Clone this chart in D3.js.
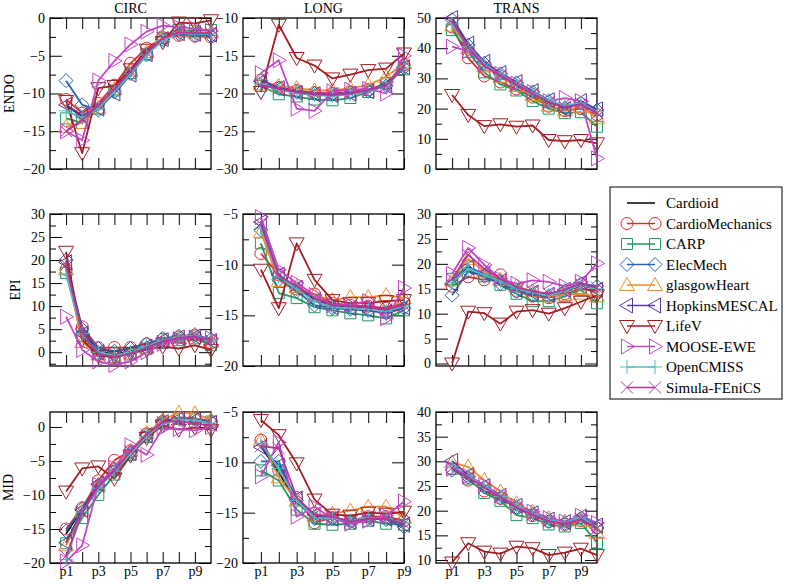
<!DOCTYPE html>
<html><head><meta charset="utf-8">
<script src="https://cdn.jsdelivr.net/npm/d3@7"></script>
<style>body{margin:0;background:#fff} svg{display:block}</style>
</head><body>
<script>
// ---------- data ----------
const seriesNames = ["Cardioid","CardioMechanics","CARP","ElecMech","glasgowHeart","HopkinsMESCAL","LifeV","MOOSE-EWE","OpenCMISS","Simula-FEniCS"];
const seriesColors = ["#000000","#e8252b","#1c9a62","#2a62ad","#f28a2a","#5b3a9c","#a31d22","#c444c6","#4cc0c4","#b5359a"];
const seriesMarkers = ["none","circle","square","diamond","triUp","triLeft","triDown","triRight","plus","cross"];
const pointLabels = ["p1","p2","p3","p4","p5","p6","p7","p8","p9","p10"];
const xTickLabels = ["p1","p3","p5","p7","p9"];
const columnTitles = ["CIRC","LONG","TRANS"];
const rowTitles = ["ENDO","EPI","MID"];

const endoCirc = [
  [-11.6,-13.0,-11.8,-9.5,-7.2,-4.6,-2.8,-1.9,-2.0,-2.0],
  [-10.8,-12.6,-11.3,-8.9,-6.0,-4.0,-2.6,-2.3,-2.4,-2.5],
  [-13.3,-13.9,-12.0,-9.6,-7.3,-4.8,-2.7,-1.6,-1.7,-1.6],
  [-8.3,-11.5,-12.2,-9.8,-7.4,-4.9,-2.9,-2.1,-2.3,-2.4],
  [-14.4,-13.9,-11.9,-9.4,-7.0,-4.5,-2.5,-1.8,-1.9,-1.9],
  [-11.5,-12.9,-12.0,-10.0,-7.5,-4.8,-2.8,-2.0,-2.1,-2.2],
  [-11.0,-17.9,-9.3,-9.0,-6.8,-4.2,-3.2,-0.6,-0.7,-0.3],
  [-15.0,-16.2,-8.3,-5.7,-3.5,-1.8,-1.0,-1.2,-1.4,-1.7],
  [-12.3,-13.2,-12.0,-9.8,-7.4,-4.9,-3.0,-2.0,-2.1,-2.1],
  [-15.0,-13.5,-11.6,-9.4,-7.1,-4.6,-2.7,-1.9,-2.0,-2.0]
];
const endoLong = [
  [-18.6,-19.4,-19.9,-20.1,-20.2,-20.0,-19.6,-18.9,-16.4],
  [-18.2,-19.2,-19.6,-19.9,-20.0,-19.8,-19.5,-18.7,-16.2],
  [-19.0,-20.1,-20.4,-20.8,-20.9,-20.6,-19.8,-18.6,-16.8],
  [-18.3,-19.3,-19.8,-20.0,-20.1,-19.9,-19.7,-19.0,-16.6],
  [-18.8,-19.0,-19.3,-19.6,-19.6,-19.3,-18.9,-17.8,-16.0],
  [-18.4,-19.3,-19.9,-20.1,-20.2,-20.0,-19.7,-19.0,-16.5],
  [-19.8,-10.9,-15.3,-16.3,-18.0,-17.5,-16.9,-16.7,-14.7],
  [-17.3,-15.6,-22.0,-22.3,-19.7,-19.5,-19.4,-20.0,-15.0],
  [-18.7,-19.5,-19.9,-20.2,-20.3,-20.1,-19.7,-19.1,-16.5],
  [-18.9,-19.4,-19.8,-20.1,-20.2,-20.0,-19.6,-19.0,-16.4]
];
const endoTrans = [
  [48.5,40.5,34.5,31.0,28.0,25.0,22.0,20.5,21.5,19.0],
  [47.0,36.8,30.8,28.8,26.5,23.8,20.8,19.3,20.0,18.0],
  [46.0,38.8,32.0,28.0,26.0,22.5,20.0,18.5,18.8,14.0],
  [49.5,41.0,35.0,31.5,28.5,25.5,22.5,20.2,21.8,19.5],
  [47.5,40.0,34.0,30.5,27.5,24.5,21.0,19.5,20.5,17.0],
  [50.0,41.5,35.5,31.8,28.8,25.8,22.8,19.8,22.5,19.8],
  [24.5,17.9,14.2,14.8,14.0,14.4,9.6,9.2,9.6,8.5],
  [40.5,39.0,34.5,31.5,28.3,25.5,22.5,23.5,22.5,3.5],
  [48.0,40.5,34.8,31.2,28.2,25.2,22.8,21.0,21.8,19.0],
  [48.8,40.2,34.2,31.0,28.0,25.0,22.2,20.5,21.5,18.5]
];
const epiCirc = [
  [18.5,4.5,0.2,-0.5,0.2,1.3,2.5,3.0,3.3,2.3],
  [18.0,5.5,1.0,1.0,1.0,1.8,2.8,3.3,3.6,2.0],
  [17.2,3.5,-0.3,-1.0,-0.5,0.8,2.0,2.6,3.0,1.5],
  [20.0,5.0,0.8,0.2,0.8,1.8,3.0,3.5,3.8,2.8],
  [18.0,2.2,-0.5,-1.2,-0.3,1.0,2.5,3.4,3.7,2.3],
  [19.5,4.0,0.0,-0.8,0.0,1.2,2.6,3.2,3.4,2.4],
  [21.8,2.8,-0.8,-1.0,-0.2,0.5,1.2,0.8,1.5,0.5],
  [7.7,0.5,-2.0,-2.8,-2.0,0.0,1.8,2.8,3.2,3.0],
  [17.0,4.0,0.0,-0.7,0.0,1.3,2.6,3.2,3.5,2.5],
  [19.0,4.3,-0.4,-1.0,-0.3,1.0,2.4,3.1,3.4,2.6]
];
const epiLong = [
  [-6.5,-11.3,-12.3,-13.4,-14.1,-14.2,-14.3,-14.5,-14.0],
  [-8.9,-11.0,-12.4,-12.9,-13.8,-14.0,-14.1,-14.3,-13.8],
  [-7.9,-12.8,-13.3,-14.2,-14.5,-14.8,-15.0,-15.3,-14.5],
  [-6.6,-11.5,-12.6,-14.0,-14.3,-14.4,-14.5,-14.8,-14.3],
  [-6.8,-11.6,-12.2,-13.0,-13.5,-13.2,-13.2,-13.0,-13.3],
  [-5.8,-11.0,-12.3,-13.6,-14.2,-14.3,-14.5,-14.7,-14.2],
  [-10.5,-14.3,-7.9,-11.5,-13.5,-13.8,-13.8,-13.6,-13.5],
  [-5.3,-10.5,-11.8,-13.0,-14.0,-14.0,-13.6,-15.3,-12.3],
  [-6.4,-11.2,-12.4,-13.6,-14.2,-14.3,-14.4,-14.6,-14.1],
  [-6.0,-11.1,-12.1,-13.3,-14.0,-14.1,-14.2,-14.4,-14.0]
];
const epiTrans = [
  [16.5,19.0,17.8,16.5,14.8,14.0,13.6,14.4,15.7,15.0],
  [15.5,17.4,16.8,17.8,14.5,13.5,13.2,14.0,15.0,14.5],
  [17.0,19.5,17.5,15.8,14.0,12.5,12.5,13.5,14.8,12.1],
  [13.7,18.5,17.5,16.0,14.5,13.8,13.5,14.6,16.0,15.5],
  [16.7,21.0,18.5,16.8,15.5,14.5,13.5,13.8,14.0,13.5],
  [16.0,19.3,18.0,16.5,14.8,14.2,13.8,14.8,16.2,14.8],
  [0.0,10.4,10.1,8.0,10.4,10.7,10.0,11.1,12.4,13.7],
  [18.0,23.2,19.8,17.0,16.0,16.7,16.4,15.5,16.4,20.1],
  [16.3,19.0,17.8,16.5,15.0,14.2,13.7,14.5,15.8,15.0],
  [17.0,21.8,19.0,17.0,15.3,14.5,14.0,14.8,16.0,15.2]
];
const midCirc = [
  [-15.7,-12.0,-8.3,-6.3,-3.9,-1.3,0.6,1.2,1.2,0.7],
  [-15.0,-11.9,-7.9,-4.9,-3.5,-1.0,0.8,1.4,1.3,0.6],
  [-17.1,-13.4,-10.0,-7.0,-4.1,-1.5,0.5,1.3,1.2,0.8],
  [-15.3,-12.0,-8.5,-6.2,-3.8,-1.2,0.7,1.3,1.2,0.9],
  [-17.4,-12.3,-8.6,-6.0,-3.5,-0.9,1.0,2.1,2.0,1.0],
  [-17.0,-12.2,-8.4,-6.2,-3.8,-1.2,0.7,1.2,1.1,0.6],
  [-9.5,-6.1,-5.8,-7.6,-4.2,-1.6,0.2,-0.4,-0.1,-0.4],
  [-19.8,-17.4,-8.5,-6.0,-2.7,-4.1,-0.2,-0.3,-0.5,0.0],
  [-19.5,-12.5,-9.0,-6.5,-4.0,-1.4,0.5,1.1,1.0,0.5],
  [-19.0,-12.6,-8.8,-6.4,-3.6,-1.1,0.7,0.9,0.5,0.2]
];
const midLong = [
  [-8.4,-11.0,-14.0,-15.4,-15.5,-15.9,-15.5,-15.5,-16.0],
  [-7.8,-10.8,-13.5,-16.0,-15.5,-15.8,-15.4,-15.4,-15.8],
  [-10.8,-11.8,-14.7,-16.1,-16.2,-16.1,-15.8,-16.1,-16.2],
  [-9.9,-9.9,-13.8,-15.6,-15.6,-15.9,-15.6,-15.7,-16.4],
  [-7.8,-11.5,-13.8,-15.3,-15.1,-14.8,-14.4,-14.4,-15.5],
  [-8.5,-10.3,-13.6,-15.2,-15.6,-15.9,-15.6,-15.6,-16.2],
  [-5.8,-7.3,-10.1,-13.7,-15.2,-15.3,-15.0,-15.1,-14.9],
  [-11.4,-8.0,-15.4,-14.4,-15.6,-16.1,-15.8,-15.3,-13.9],
  [-8.1,-10.6,-13.8,-15.5,-15.6,-15.8,-15.5,-15.6,-16.0],
  [-8.4,-8.6,-13.5,-15.2,-15.4,-15.9,-15.6,-15.6,-16.1]
];
const midTrans = [
  [28.9,26.9,24.9,22.8,20.8,19.3,18.0,17.5,18.5,16.8],
  [28.5,26.2,24.0,22.5,20.5,19.0,17.8,17.2,18.0,16.5],
  [28.5,26.5,23.6,22.0,19.1,18.5,17.2,16.8,17.5,13.5],
  [28.2,26.8,24.8,22.6,20.6,19.2,17.8,17.4,18.5,16.5],
  [29.8,28.9,26.2,23.9,21.5,19.8,18.5,17.8,18.0,15.5],
  [30.1,27.2,25.0,23.0,21.0,19.5,18.2,17.7,18.8,17.0],
  [9.5,13.4,11.7,11.3,12.7,12.4,11.0,11.5,12.3,11.0],
  [28.5,27.0,25.2,23.2,21.0,19.8,18.5,17.8,19.0,17.5],
  [29.0,27.0,24.9,22.9,20.9,19.4,18.1,17.6,18.6,16.8],
  [28.7,26.8,24.7,22.8,20.7,19.2,17.9,17.4,18.3,16.5]
];

// ---------- layout ----------
const FONT = "Liberation Serif, Times New Roman, Times, serif";
const W = 161;
const colLeft = [50, 243, 436];
const rowTop = [18, 214, 412];
const rowH = [151, 152, 151];

const panels = [
  {data: endoCirc,  dom: [-20, 0],   major: 5,  minor: 2.5, r: 0, c: 0},
  {data: endoLong,  dom: [-30, -10], major: 5,  minor: 2.5, r: 0, c: 1},
  {data: endoTrans, dom: [0, 50],    major: 10, minor: 5,   r: 0, c: 2},
  {data: epiCirc,   dom: [-3, 30],   major: 5,  minor: 2.5, r: 1, c: 0},
  {data: epiLong,   dom: [-20, -5],  major: 5,  minor: 2.5, r: 1, c: 1},
  {data: epiTrans,  dom: [-0.5, 30], major: 5,  minor: 2.5, r: 1, c: 2},
  {data: midCirc,   dom: [-20, 2.2], major: 5,  minor: 2.5, r: 2, c: 0},
  {data: midLong,   dom: [-20, -5],  major: 5,  minor: 2.5, r: 2, c: 1},
  {data: midTrans,  dom: [9.4, 40],  major: 5,  minor: 2.5, r: 2, c: 2}
];

function ticksFor(dom, step) {
  const out = [];
  for (let k = Math.ceil(dom[0] / step - 1e-9); k * step <= dom[1] + 1e-9; k++) out.push(+(k * step).toFixed(4));
  return out;
}

function markerPath(t) {
  switch (t) {
    case "circle": return "M6,0A6,6 0 1,1 -6,0A6,6 0 1,1 6,0Z";
    case "square": return "M-5.5,-5.5H5.5V5.5H-5.5Z";
    case "diamond": return "M0,-7L7,0L0,7L-7,0Z";
    case "triUp": return "M0,-7.5L7.5,5.5L-7.5,5.5Z";
    case "triDown": return "M0,7.5L7.5,-5.5L-7.5,-5.5Z";
    case "triLeft": return "M-7.5,0L5.5,-7.5L5.5,7.5Z";
    case "triRight": return "M7.5,0L-5.5,-7.5L-5.5,7.5Z";
    case "plus": return "M-7,0H7M0,-7V7";
    case "cross": return "M-6,-6L6,6M-6,6L6,-6";
  }
  return "";
}

const svg = d3.select("body").append("svg").attr("width", 785).attr("height", 584)
  .attr("font-family", FONT);

function styleAxis(sel) {
  sel.select(".domain").remove();
  sel.selectAll(".tick line").attr("stroke", "#000").attr("stroke-width", 1);
  sel.attr("font-family", FONT).attr("font-size", 14);
  sel.selectAll("text").attr("font-family", FONT).attr("font-size", 14).attr("fill", "#000");
}

panels.forEach(p => {
  const left = colLeft[p.c], top = rowTop[p.r], h = rowH[p.r];
  const n = p.data[0].length;
  const x = d3.scaleLinear().domain([0, n]).range([left, left + W]);
  const y = d3.scaleLinear().domain(p.dom).range([top + h, top]);
  const g = svg.append("g");
  const majors = ticksFor(p.dom, p.major);
  const minors = ticksFor(p.dom, p.minor).filter(v => Math.abs(v / p.major - Math.round(v / p.major)) > 1e-6);
  const xt = d3.range(1, 10);

  g.append("g").attr("transform", `translate(${left},0)`)
    .call(d3.axisLeft(y).tickValues(majors).tickSize(-12).tickPadding(5).tickFormat(d3.format("d")))
    .call(styleAxis);
  g.append("g").attr("transform", `translate(${left},0)`)
    .call(d3.axisLeft(y).tickValues(minors).tickSize(-6).tickFormat(""))
    .call(styleAxis);
  g.append("g").attr("transform", `translate(${left + W},0)`)
    .call(d3.axisRight(y).tickValues(majors).tickSize(-12).tickFormat(""))
    .call(styleAxis);
  g.append("g").attr("transform", `translate(${left + W},0)`)
    .call(d3.axisRight(y).tickValues(minors).tickSize(-6).tickFormat(""))
    .call(styleAxis);
  const showX = p.r === 2;
  g.append("g").attr("transform", `translate(0,${top + h})`)
    .call(d3.axisBottom(x).tickValues(xt).tickSize(-11).tickPadding(3)
      .tickFormat(d => (showX && xTickLabels.includes(pointLabels[d - 1])) ? pointLabels[d - 1] : ""))
    .call(styleAxis);
  g.append("g").attr("transform", `translate(0,${top})`)
    .call(d3.axisTop(x).tickValues(xt).tickSize(-11).tickFormat(""))
    .call(styleAxis);

  g.append("rect").attr("x", left).attr("y", top).attr("width", W).attr("height", h)
    .attr("fill", "none").attr("stroke", "#000").attr("stroke-width", 1.3);

  const line = d3.line().x((d, i) => x(i + 1)).y(d => y(d));
  p.data.forEach((vals, s) => {
    g.append("path").attr("d", line(vals)).attr("fill", "none")
      .attr("stroke", seriesColors[s]).attr("stroke-width", 1.8).attr("stroke-linejoin", "round");
    if (seriesMarkers[s] !== "none") {
      g.append("g").selectAll("path").data(vals).join("path")
        .attr("transform", (d, i) => `translate(${x(i + 1)},${y(d)})`)
        .attr("d", markerPath(seriesMarkers[s]))
        .attr("fill", "none").attr("stroke", seriesColors[s]).attr("stroke-width", 1);
    }
  });
});

// column titles
columnTitles.forEach((t, c) => {
  svg.append("text").attr("x", colLeft[c] + W / 2).attr("y", 13).attr("text-anchor", "middle")
    .attr("font-family", FONT).attr("font-size", 14).attr("fill", "#000").text(t);
});
// row titles
const rowLabelX = [14, 20, 13];
rowTitles.forEach((t, r) => {
  const cy = rowTop[r] + rowH[r] / 2;
  svg.append("text").attr("transform", `translate(${rowLabelX[r]},${cy}) rotate(-90)`)
    .attr("text-anchor", "middle").attr("font-family", FONT).attr("font-size", 14).attr("fill", "#000").text(t);
});

// legend
const lg = svg.append("g");
lg.append("rect").attr("x", 610).attr("y", 187).attr("width", 172).attr("height", 212)
  .attr("fill", "#fff").attr("stroke", "#000").attr("stroke-width", 1);
seriesNames.forEach((name, s) => {
  const yy = 203 + s * 20.5;
  lg.append("line").attr("x1", 627).attr("x2", 655).attr("y1", yy).attr("y2", yy)
    .attr("stroke", seriesColors[s]).attr("stroke-width", 1.5);
  if (seriesMarkers[s] !== "none") {
    [627, 655].forEach(xx => lg.append("path").attr("transform", `translate(${xx},${yy})`)
      .attr("d", markerPath(seriesMarkers[s])).attr("fill", "none")
      .attr("stroke", seriesColors[s]).attr("stroke-width", 1));
  }
  lg.append("text").attr("x", 666).attr("y", yy).attr("dy", "0.35em")
    .attr("font-family", FONT).attr("font-size", 15).attr("fill", "#000").text(name);
});
</script>
</body></html>
